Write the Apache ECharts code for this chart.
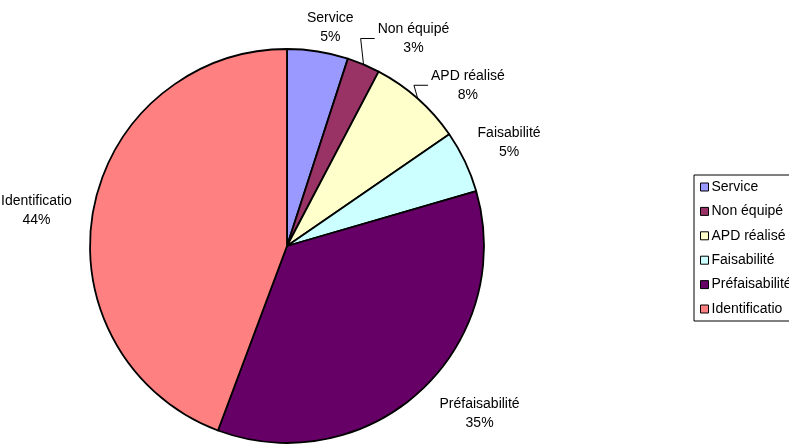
<!DOCTYPE html>
<html>
<head>
<meta charset="utf-8">
<script src="https://cdn.jsdelivr.net/npm/echarts@6/dist/echarts.min.js"></script>
<style>
html,body{margin:0;padding:0;background:#fff;}
#chart{width:789px;height:447px;}
</style>
</head>
<body>
<div id="chart"></div>
<script>
// Data
var categories = ['Service', 'Non équipé', 'APD réalisé', 'Faisabilité', 'Préfaisabilité', 'Identificatio'];
var values = [5.0, 2.7, 7.7, 5.1, 35.2, 44.3];
var colors = ['#9999FF', '#993366', '#FFFFCC', '#CCFFFF', '#660066', '#FF8080'];

// Label layout config (angle shift in degrees, radial distance from center to label center, leader line)
var labelAngleShift = [2.2, 8.5, 6.8, 0.4, -6.2, -2.3];
var labelDist = [223, 243, 242, 245, 255, 253];
var showLeader = [false, true, true, false, false, false];

var CX = 287, CY = 246, R = 197;
var total = values.reduce(function (a, b) { return a + b; }, 0);
var midAngles = [];
(function () {
  var cum = 0;
  for (var i = 0; i < values.length; i++) {
    midAngles.push((cum + values[i] / 2) / total * 360);
    cum += values[i];
  }
})();

var font = '"Liberation Sans", Arial, Helvetica, sans-serif';

var chart = echarts.init(document.getElementById('chart'), null, {renderer: 'canvas'});
var option = {
  backgroundColor: '#ffffff',
  animation: false,
  legend: {
    orient: 'vertical',
    left: 694,
    top: 175,
    padding: [5, 10, 5, 6],
    itemGap: 10.4,
    itemWidth: 8,
    itemHeight: 8,
    icon: 'rect',
    borderColor: '#000',
    borderWidth: 1,
    borderRadius: 0,
    itemStyle: {borderColor: '#000', borderWidth: 1},
    textStyle: {fontFamily: font, fontSize: 14, color: '#000', padding: [0, 0, 0, -2], lineHeight: 14},
    data: categories
  },
  series: [{
    type: 'pie',
    center: [CX, CY],
    radius: [0, R],
    startAngle: 90,
    clockwise: true,
    percentPrecision: 0,
    avoidLabelOverlap: false,
    itemStyle: {borderColor: '#000', borderWidth: 1.8},
    label: {
      show: true,
      position: 'outside',
      formatter: '{b}\n{d}%',
      fontFamily: font,
      fontSize: 14,
      lineHeight: 19,
      color: '#000'
    },
    labelLine: {show: true, length: 10, length2: 10, lineStyle: {color: '#000', width: 1}},
    labelLayout: function (p) {
      var i = p.dataIndex;
      var a = (midAngles[i] + labelAngleShift[i]) * Math.PI / 180;
      var lx = CX + labelDist[i] * Math.sin(a);
      var ly = CY - labelDist[i] * Math.cos(a);
      var res = {x: lx, y: ly, align: 'center', verticalAlign: 'middle'};
      if (showLeader[i]) {
        var m = midAngles[i] * Math.PI / 180;
        var ex = CX + R * Math.sin(m), ey = CY - R * Math.cos(m);
        var w = p.labelRect.width;
        var endX = lx - w / 2 - 3;
        var yLine = ly;
        res.labelLinePoints = [[ex, ey], [endX - 14, yLine], [endX, yLine]];
      }
      return res;
    },
    data: categories.map(function (c, i) {
      return {
        name: c,
        value: values[i],
        itemStyle: {color: colors[i]},
        labelLine: {show: showLeader[i]}
      };
    })
  }]
};
chart.setOption(option);
</script>
</body>
</html>
